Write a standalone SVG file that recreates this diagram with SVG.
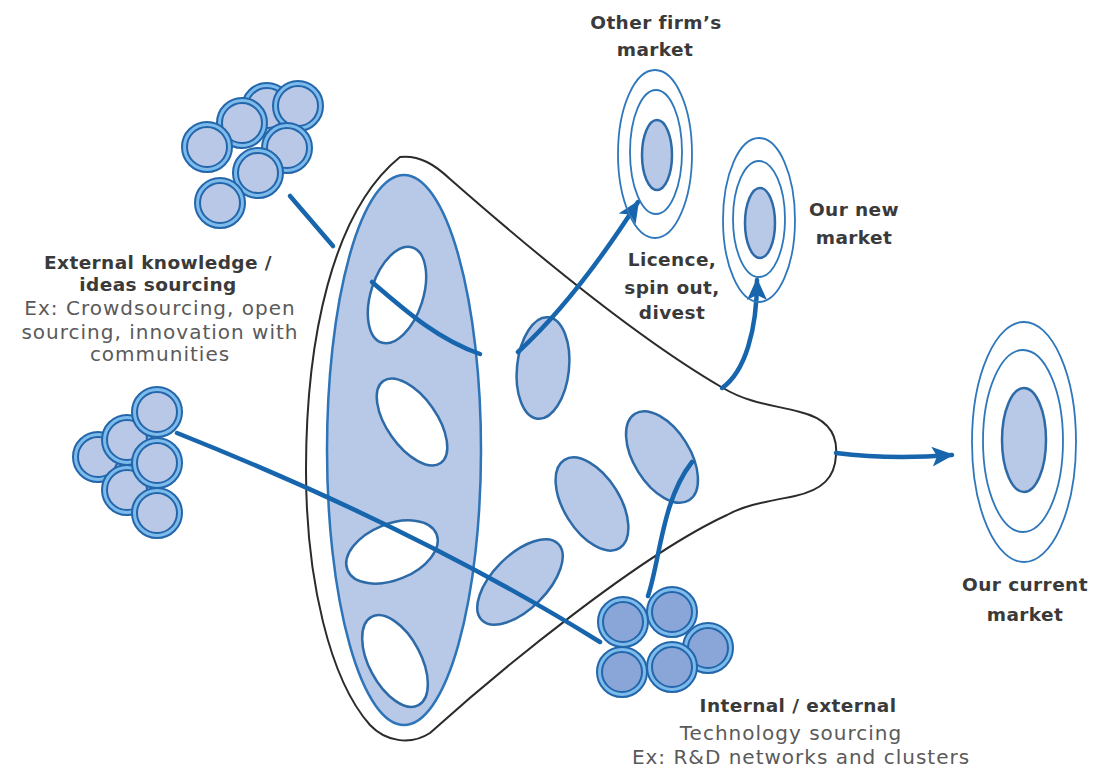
<svg xmlns="http://www.w3.org/2000/svg" xmlns:xlink="http://www.w3.org/1999/xlink" width="1094" height="771" viewBox="0 0 1094 771">
<defs>
<style>
.outline{fill:#ffffff;stroke:#2b2b2b;stroke-width:2}
.big{fill:#b8c8e7;stroke:#2d74b8;stroke-width:2.5}
.hole{fill:#ffffff;stroke:#2d6aa8;stroke-width:2.5}
.idea{fill:#b8c8e7;stroke:#2d6aa8;stroke-width:2.5}
.ring{fill:none;stroke:#2f77bb;stroke-width:1.8}
.core{fill:#b8c8e7;stroke:#2d6aa8;stroke-width:2.5}
.conn{fill:none;stroke:#1766ad;stroke-width:4.5;stroke-linecap:round}
.t{font-family:"DejaVu Sans","Liberation Sans",sans-serif;text-anchor:middle}
.b{font-weight:bold;fill:#3a3a3a;font-size:18.5px;letter-spacing:0.4px}
.r{fill:#5a5a5a;font-size:20px;letter-spacing:1px}
.bo{fill:#7dbbec;stroke:#2366aa;stroke-width:2}
.bi{fill:#bac8e8;stroke:#2366aa;stroke-width:2}
.bid{fill:#8aa6d8;stroke:#2366aa;stroke-width:2}
</style>
<marker id="ah" markerUnits="userSpaceOnUse" markerWidth="26" markerHeight="24" refX="20" refY="10" orient="auto">
<path d="M0,0 L22,10 L0,20 L5,10 Z" fill="#1766ad"/>
</marker>
<g id="bub"><circle r="25" class="bo"/><circle r="20" class="bi"/></g>
<g id="bubd"><circle r="25" class="bo"/><circle r="20" class="bid"/></g>
</defs>
<rect width="1094" height="771" fill="#ffffff"/>

<g id="funnel">
<path class="outline" d="M400,157 C420,155 435,165 450,179 C540,258 640,340 723,388 C750,404 775,405 800,412 C825,418 838,432 836,455 C835,478 822,490 795,496 C765,502 745,505 727,515 C640,555 500,670 430,733 C410,746 385,741 370,725 C330,680 306,580 306,470 C306,340 332,212 400,157 Z"/>
<ellipse class="big" cx="404" cy="450" rx="77" ry="275"/>
<ellipse class="hole" cx="397" cy="295" rx="26" ry="50" transform="rotate(18 397 295)"/>
<ellipse class="hole" cx="412" cy="422" rx="25" ry="50" transform="rotate(-35 412 422)"/>
<ellipse class="hole" cx="392" cy="552" rx="48" ry="28" transform="rotate(-22 392 552)"/>
<ellipse class="hole" cx="395" cy="661" rx="26" ry="50" transform="rotate(-28 395 661)"/>
</g>

<g id="ideas">
<ellipse class="idea" cx="543" cy="368" rx="26" ry="51" transform="rotate(6 543 368)"/>
<ellipse class="idea" cx="662" cy="457" rx="28" ry="51" transform="rotate(-32 662 457)"/>
<ellipse class="idea" cx="592" cy="504" rx="28" ry="52" transform="rotate(-32 592 504)"/>
<ellipse class="idea" cx="520" cy="582" rx="27" ry="54" transform="rotate(45 520 582)"/>
</g>

<g id="connectors">
<path class="conn" d="M290,196 L333,246"/>
<path class="conn" d="M372,282 C410,315 440,340 480,354"/>
<path class="conn" d="M177,433 Q420,530 600,642"/>
<path class="conn" d="M648,596 C660,560 662,500 692,462"/>
<path class="conn" d="M518,352 Q575,300 638,202" marker-end="url(#ah)"/>
<path class="conn" d="M722,388 C745,372 757,330 757,280" marker-end="url(#ah)"/>
<path class="conn" d="M836,453 Q890,460 952,455" marker-end="url(#ah)"/>
</g>

<g id="cluster-external">
<use xlink:href="#bub" x="267" y="108"/>
<use xlink:href="#bub" x="242" y="123"/>
<use xlink:href="#bub" x="298" y="106"/>
<use xlink:href="#bub" x="207" y="147"/>
<use xlink:href="#bub" x="287" y="148"/>
<use xlink:href="#bub" x="258" y="173"/>
<use xlink:href="#bub" x="220" y="203"/>
</g>

<g id="cluster-left">
<use xlink:href="#bub" x="98" y="457"/>
<use xlink:href="#bub" x="127" y="440"/>
<use xlink:href="#bub" x="127" y="490"/>
<use xlink:href="#bub" x="157" y="412"/>
<use xlink:href="#bub" x="157" y="463"/>
<use xlink:href="#bub" x="157" y="513"/>
</g>

<g id="cluster-internal">
<use xlink:href="#bubd" x="672" y="612"/>
<use xlink:href="#bubd" x="623" y="622"/>
<use xlink:href="#bubd" x="708" y="648"/>
<use xlink:href="#bubd" x="672" y="667"/>
<use xlink:href="#bubd" x="622" y="672"/>
</g>

<g id="market-other">
<ellipse class="ring" cx="655" cy="154" rx="37" ry="84"/>
<ellipse class="ring" cx="656" cy="152" rx="26" ry="62"/>
<ellipse class="core" cx="657" cy="155" rx="15" ry="35"/>
<text class="t b" x="656" y="29">Other firm’s</text>
<text class="t b" x="655" y="56">market</text>
</g>

<g id="market-new">
<ellipse class="ring" cx="759" cy="220" rx="36" ry="82"/>
<ellipse class="ring" cx="759" cy="219" rx="26" ry="58"/>
<ellipse class="core" cx="760" cy="223" rx="15" ry="35"/>
<text class="t b" x="854" y="216">Our new</text>
<text class="t b" x="854" y="244">market</text>
</g>

<g id="market-current">
<ellipse class="ring" cx="1024" cy="442" rx="52" ry="120"/>
<ellipse class="ring" cx="1023" cy="441" rx="40" ry="91"/>
<ellipse class="core" cx="1024" cy="440" rx="22" ry="52"/>
<text class="t b" x="1025" y="591">Our current</text>
<text class="t b" x="1025" y="621">market</text>
</g>

<g id="label-licence">
<text class="t b" x="672" y="266">Licence,</text>
<text class="t b" x="672" y="294">spin out,</text>
<text class="t b" x="672" y="319">divest</text>
</g>

<g id="label-external">
<text class="t b" x="158" y="269">External knowledge /</text>
<text class="t b" x="158" y="291">ideas sourcing</text>
<text class="t r" x="160" y="315">Ex: Crowdsourcing, open</text>
<text class="t r" x="160" y="339">sourcing, innovation with</text>
<text class="t r" x="160" y="361">communities</text>
</g>

<g id="label-internal">
<text class="t b" x="798" y="712">Internal / external</text>
<text class="t r" x="791" y="740">Technology sourcing</text>
<text class="t r" x="801" y="764">Ex: R&amp;D networks and clusters</text>
</g>
</svg>
